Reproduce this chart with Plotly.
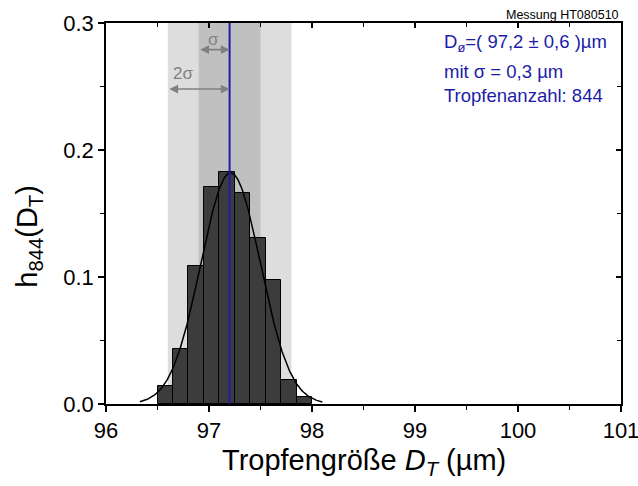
import numpy as np
import plotly.graph_objects as go

# ---- data ----
bin_centers = [96.575, 96.725, 96.875, 97.025, 97.175, 97.325, 97.475, 97.625, 97.775, 97.925]
rel_freq = [0.014, 0.043, 0.109, 0.171, 0.183, 0.166, 0.131, 0.098, 0.019, 0.0055]
bin_width = 0.15

mean_d = 97.2        # mean drop diameter (µm)
sigma = 0.3          # standard deviation (µm)

# Gaussian fit parameters
fit_mean = 97.21
fit_sigma = 0.29
fit_amp = 0.182
fit_x = np.linspace(96.33, 98.1, 300)
fit_y = fit_amp * np.exp(-(fit_x - fit_mean) ** 2 / (2 * fit_sigma ** 2))

x_ticks = [96, 97, 98, 99, 100, 101]
x_minor = [96.5, 97.5, 98.5, 99.5, 100.5]
y_ticks = [0.0, 0.1, 0.2, 0.3]
y_tick_labels = ["0.0", "0.1", "0.2", "0.3"]
y_minor = [0.05, 0.15, 0.25]

x_range = [96, 101]
y_range = [0, 0.3]

FONT = "Arial, Liberation Sans, Helvetica, sans-serif"
BLUE = "#1c1ca8"
GRAY = "#808080"

fig = go.Figure()

fig.add_trace(go.Bar(
    x=bin_centers, y=rel_freq, width=bin_width,
    marker=dict(color="#3c3c3c", line=dict(color="black", width=1)),
    showlegend=False, hoverinfo="skip"))

fig.add_trace(go.Scatter(
    x=fit_x, y=fit_y, mode="lines",
    line=dict(color="black", width=1.5),
    showlegend=False, hoverinfo="skip"))

fig.add_trace(go.Scatter(
    x=[mean_d, mean_d], y=y_range, mode="lines",
    line=dict(color=BLUE, width=2),
    showlegend=False, hoverinfo="skip"))

# dummy trace for the mirrored axes
fig.add_trace(go.Scatter(x=[None], y=[None], xaxis="x2", yaxis="y2",
                         showlegend=False, hoverinfo="skip"))

# sigma bands
fig.add_shape(type="rect", xref="x", yref="y",
              x0=mean_d - 2 * sigma, x1=mean_d + 2 * sigma, y0=y_range[0], y1=y_range[1],
              fillcolor="#dddddd", line=dict(width=0), layer="below")
fig.add_shape(type="rect", xref="x", yref="y",
              x0=mean_d - sigma, x1=mean_d + sigma, y0=y_range[0], y1=y_range[1],
              fillcolor="#c0c0c0", line=dict(width=0), layer="below")

# arrows
for x_start, y_arr in [(mean_d - sigma, 0.279), (mean_d - 2 * sigma, 0.248)]:
    fig.add_annotation(x=mean_d, y=y_arr, ax=x_start, ay=y_arr,
                       xref="x", yref="y", axref="x", ayref="y",
                       showarrow=True, arrowhead=2, arrowside="end+start",
                       arrowsize=1.1, arrowwidth=1.6, arrowcolor=GRAY, text="")

fig.add_annotation(x=97.04, y=0.287, xref="x", yref="y", text="σ", showarrow=False,
                   font=dict(family=FONT, size=17, color=GRAY))
fig.add_annotation(x=96.745, y=0.26, xref="x", yref="y", text="2σ", showarrow=False,
                   font=dict(family=FONT, size=17, color=GRAY))

# info text
info_lines = ["D<sub>ø</sub>=( 97,2 ± 0,6 )µm", "mit σ = 0,3 µm", "Tropfenanzahl: 844"]
info_y = [0.947, 0.874, 0.81]
for txt, yy in zip(info_lines, info_y):
    fig.add_annotation(x=0.652, y=yy, xref="paper", yref="paper", text=txt,
                       showarrow=False, xanchor="left", yanchor="middle",
                       font=dict(family=FONT, size=18.5, color=BLUE))

fig.add_annotation(x=1.0, y=1.0, xref="paper", yref="paper", text="Messung HT080510",
                   showarrow=False, xanchor="right", yanchor="bottom", yshift=-1,
                   font=dict(family=FONT, size=12.5, color="black"))

# axis titles
fig.add_annotation(x=0.5, y=-0.152, xref="paper", yref="paper",
                   text="Tropfengröße <i>D<sub>T</sub></i> (µm)", showarrow=False,
                   xanchor="center", yanchor="middle",
                   font=dict(family=FONT, size=29, color="black"))
fig.add_annotation(x=-0.15, y=0.441, xref="paper", yref="paper",
                   text="h<sub>844</sub>(D<sub>T</sub>)", showarrow=False, textangle=-90,
                   xanchor="center", yanchor="middle",
                   font=dict(family=FONT, size=29, color="black"))

axis_common = dict(showgrid=False, zeroline=False, showline=True,
                   linecolor="black", linewidth=1.5, tickcolor="black",
                   tickwidth=1.5, automargin=False)

fig.update_layout(
    width=638, height=486,
    margin=dict(l=106, r=17, t=23, b=82, autoexpand=False),
    paper_bgcolor="white", plot_bgcolor="white",
    bargap=0,
    font=dict(family=FONT, color="black"),
    xaxis=dict(range=x_range, tickmode="array", tickvals=x_ticks,
               ticktext=[str(v) for v in x_ticks],
               ticks="outside", ticklen=6, ticklabeloverflow="allow",
               tickfont=dict(size=22, family=FONT),
               minor=dict(tickmode="array", tickvals=x_minor, ticks="outside",
                          ticklen=4, tickwidth=1.2, tickcolor="black", showgrid=False),
               **axis_common),
    yaxis=dict(range=y_range, tickmode="array", tickvals=y_ticks,
               ticktext=y_tick_labels,
               ticks="outside", ticklen=6, ticklabeloverflow="allow",
               tickfont=dict(size=22, family=FONT),
               minor=dict(tickmode="array", tickvals=y_minor, ticks="outside",
                          ticklen=4, tickwidth=1.2, tickcolor="black", showgrid=False),
               **axis_common),
    xaxis2=dict(range=x_range, overlaying="x", side="top", anchor="y",
                tickmode="array", tickvals=x_ticks, showticklabels=False,
                ticks="inside", ticklen=5,
                minor=dict(tickmode="array", tickvals=x_minor, ticks="inside",
                           ticklen=4, tickwidth=1.2, tickcolor="black", showgrid=False),
                **axis_common),
    yaxis2=dict(range=y_range, overlaying="y", side="right", anchor="x",
                tickmode="array", tickvals=y_ticks, showticklabels=False,
                ticks="inside", ticklen=5,
                minor=dict(tickmode="array", tickvals=y_minor, ticks="inside",
                           ticklen=4, tickwidth=1.2, tickcolor="black", showgrid=False),
                **axis_common),
)

fig.write_html("out.html")
